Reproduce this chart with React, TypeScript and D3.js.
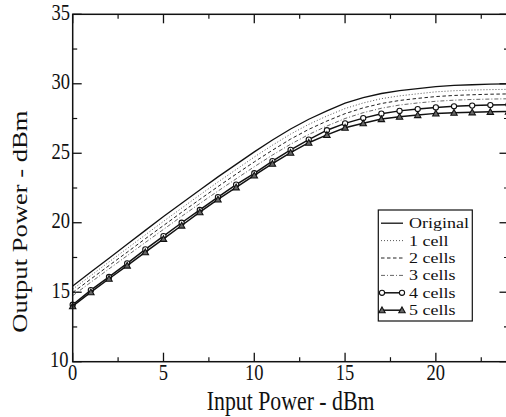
import React from "react";
import * as d3 from "d3";

const inputPower = [0,1,2,3,4,5,6,7,8,9,10,11,12,13,14,15,16,17,18,19,20,21,22,23,24];
const original = [15.45,16.45,17.45,18.45,19.45,20.45,21.4,22.35,23.3,24.2,25.1,25.95,26.75,27.45,28.05,28.6,29.0,29.3,29.5,29.65,29.8,29.88,29.93,29.97,30.0];
const cell1 = [15.22,16.2,17.18,18.15,19.13,20.1,21.05,22.0,22.93,23.83,24.73,25.58,26.38,27.08,27.68,28.22,28.62,28.93,29.13,29.28,29.42,29.5,29.55,29.58,29.6];
const cells2 = [14.98,15.95,16.92,17.88,18.85,19.8,20.75,21.68,22.6,23.5,24.38,25.22,26.02,26.72,27.32,27.85,28.27,28.58,28.8,28.95,29.08,29.16,29.21,29.25,29.27];
const cells3 = [14.75,15.72,16.68,17.63,18.58,19.52,20.46,21.38,22.28,23.16,24.03,24.87,25.65,26.35,26.96,27.5,27.92,28.24,28.47,28.62,28.74,28.82,28.87,28.9,28.92];
const cells4 = [14.1,15.15,16.1,17.08,18.08,19.04,20.0,20.92,21.84,22.74,23.56,24.44,25.24,25.98,26.66,27.15,27.53,27.85,28.05,28.18,28.3,28.38,28.43,28.47,28.5];
const cells5 = [14.0,15.0,15.97,16.92,17.88,18.84,19.8,20.76,21.68,22.55,23.4,24.25,25.04,25.76,26.32,26.84,27.16,27.46,27.63,27.75,27.87,27.92,27.95,27.98,28.0];

const seriesNames = ["Original","1 cell","2 cells","3 cells","4 cells","5 cells"];
const xMajorTicks = [0,5,10,15,20];
const xMinorTicks = [2.5,7.5,12.5,17.5,22.5];
const yMajorTicks = [10,15,20,25,30,35];
const yMinorTicks = [12.5,17.5,22.5,27.5,32.5];
const xTitle = "Input Power - dBm";
const yTitle = "Output Power - dBm";

const W = 506, H = 417;
const L = 72.7, R = 508.5, T = 14.3, B = 361.7;
const FONT = "'Liberation Serif', 'Times New Roman', serif";
const SY = 1.22;

export default function App() {
  const x = d3.scaleLinear().domain([0, 24]).range([L, R]);
  const y = d3.scaleLinear().domain([10, 35]).range([B, T]);
  const line = (vals: number[]) =>
    d3.line<number>().x((_, i) => x(inputPower[i])).y((v) => y(v))(vals) || "";

  const series = [
    { name: seriesNames[0], vals: original, dash: "", w: 1.3, color: "#111", marker: "" },
    { name: seriesNames[1], vals: cell1, dash: "1,2", w: 0.9, color: "#444", marker: "" },
    { name: seriesNames[2], vals: cells2, dash: "3.5,2.5", w: 1.0, color: "#222", marker: "" },
    { name: seriesNames[3], vals: cells3, dash: "4,2,1,2", w: 0.9, color: "#555", marker: "" },
    { name: seriesNames[4], vals: cells4, dash: "", w: 1.5, color: "#111", marker: "circle" },
    { name: seriesNames[5], vals: cells5, dash: "", w: 1.5, color: "#111", marker: "tri" },
  ];

  const marker = (kind: string, cx: number, cy: number, key: any) => {
    if (kind === "circle")
      return <circle key={key} cx={cx} cy={cy} r={2.6} fill="white" stroke="#111" strokeWidth={1.1} />;
    if (kind === "tri") {
      const s = 3.2;
      const p = `${cx},${cy - s} ${cx + s},${cy + s * 0.8} ${cx - s},${cy + s * 0.8}`;
      return <polygon key={key} points={p} fill="#666" stroke="#111" strokeWidth={1.1} />;
    }
    return null;
  };

  const scaledText = (tx: number, ty: number, txt: string, size: number, anchor: string, key?: any, sx: number = 1, sy: number = SY) => (
    <g key={key} transform={`translate(${tx},${ty}) scale(${sx},${sy})`}>
      <text x={0} y={0} fontSize={size} fontFamily={FONT} textAnchor={anchor as any} fill="#111">{txt}</text>
    </g>
  );

  const legX = 378.3, legY = 210, legW = 94, legH = 111;
  const rowY0 = 223.2, rowStep = 17.4;

  return (
    <svg width={W} height={H} style={{ position: "absolute", left: 0, top: 0, background: "white" }}>
      <rect x={0} y={0} width={W} height={H} fill="white" />
      {series.map((s, si) => (
        <g key={si}>
          <path d={line(s.vals)} fill="none" stroke={s.color} strokeWidth={s.w} strokeDasharray={s.dash || undefined} />
          {s.marker && s.vals.map((v, i) => marker(s.marker, x(inputPower[i]), y(v), i))}
        </g>
      ))}
      {/* frame */}
      <rect x={L} y={T} width={R - L} height={B - T} fill="none" stroke="#111" strokeWidth={1.5} />
      {/* ticks */}
      {xMajorTicks.map((t) => (
        <g key={"xm" + t}>
          <line x1={x(t)} x2={x(t)} y1={B} y2={B - 9} stroke="#111" strokeWidth={1.3} />
          <line x1={x(t)} x2={x(t)} y1={T} y2={T + 9} stroke="#111" strokeWidth={1.3} />
        </g>
      ))}
      {xMinorTicks.map((t) => (
        <g key={"xn" + t}>
          <line x1={x(t)} x2={x(t)} y1={B} y2={B - 4.5} stroke="#111" strokeWidth={1.2} />
          <line x1={x(t)} x2={x(t)} y1={T} y2={T + 4.5} stroke="#111" strokeWidth={1.2} />
        </g>
      ))}
      {yMajorTicks.map((t) => (
        <g key={"ym" + t}>
          <line x1={L} x2={L + 9} y1={y(t)} y2={y(t)} stroke="#111" strokeWidth={1.3} />
          <line x1={R} x2={R - 9} y1={y(t)} y2={y(t)} stroke="#111" strokeWidth={1.3} />
        </g>
      ))}
      {yMinorTicks.map((t) => (
        <g key={"yn" + t}>
          <line x1={L} x2={L + 4.5} y1={y(t)} y2={y(t)} stroke="#111" strokeWidth={1.2} />
          <line x1={R} x2={R - 4.5} y1={y(t)} y2={y(t)} stroke="#111" strokeWidth={1.2} />
        </g>
      ))}
      {/* tick labels */}
      {xMajorTicks.map((t) => scaledText(x(t), 380, String(t), 18.5, "middle", "xl" + t))}
      {yMajorTicks.map((t) => scaledText(t === 10 ? 68.5 : 70, y(t) + 5.5, String(t), 18.5, "end", "yl" + t))}
      {/* titles */}
      {scaledText((L + R) / 2, 409.5, xTitle, 21.8, "middle")}
      <g transform={`translate(26.5,221.7) scale(1,${SY}) rotate(-90)`}>
        <text x={0} y={0} fontSize={21.8} fontFamily={FONT} textAnchor="middle" fill="#111">{yTitle}</text>
      </g>
      {/* legend */}
      <rect x={legX} y={legY} width={legW} height={legH} fill="white" stroke="#111" strokeWidth={1.2} />
      {series.map((s, i) => {
        const ry = rowY0 + i * rowStep;
        return (
          <g key={"lg" + i}>
            <line x1={381} x2={403} y1={ry} y2={ry} stroke={s.color} strokeWidth={s.w} strokeDasharray={s.dash || undefined} />
            {s.marker && marker(s.marker, 382, ry, "a")}
            {s.marker && marker(s.marker, 402, ry, "b")}
            {scaledText(409, ry + 5, s.name, 15, "start", undefined, 1.2, 1)}
          </g>
        );
      })}
    </svg>
  );
}
